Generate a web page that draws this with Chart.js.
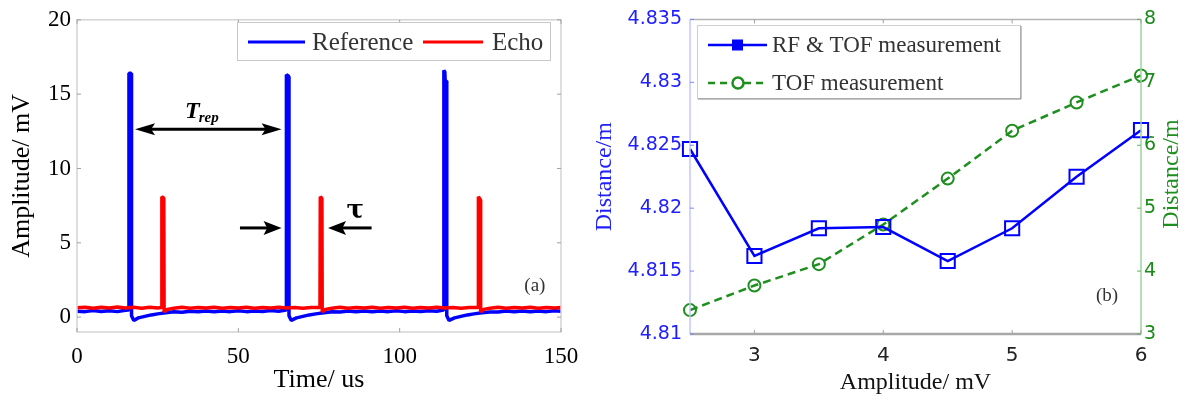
<!DOCTYPE html>
<html>
<head>
<meta charset="utf-8">
<script src="https://cdn.jsdelivr.net/npm/chart.js@4.4.0/dist/chart.umd.min.js"></script>
<style>
html, body { margin: 0; padding: 0; background: #fff; }
#wrap { position: relative; width: 1187px; height: 396px; overflow: hidden; }
#left { position: absolute; left: 0; top: 0; }
#right { position: absolute; left: 590px; top: 0; }
</style>
</head>
<body>
<div id="wrap">
  <canvas id="left" width="590" height="396"></canvas>
  <canvas id="right" width="597" height="396"></canvas>
</div>
<script>
// (a) pulse traces
const refTime = [0, 2.5, 5, 7.5, 10, 12.5, 15, 16.0, 16.1, 16.8, 16.9, 17.6, 19, 21, 23, 25, 27.5, 30, 32.5, 35, 37.5, 40, 42.5, 45, 47.5, 50, 52.5, 55, 57.5, 60, 62.5,
  64.8, 64.9, 65.6, 65.7, 66.4, 68, 70, 72, 74, 76.5, 79, 81.5, 84, 86.5, 89, 91.5, 94, 96.5, 99, 101.5, 104, 106.5, 109, 111.5,
  113.6, 113.7, 114.0, 114.1, 114.5, 114.6, 115.3, 117, 119, 121, 123, 125.5, 128, 130.5, 133, 135.5, 138, 140.5, 143, 145.5, 148, 150];
const refAmp = [0.4, 0.37, 0.44, 0.38, 0.43, 0.37, 0.46, 0.48, 16.4, 16.4, 0.1, -0.22, -0.05, 0.05, 0.15, 0.22, 0.3, 0.36, 0.33, 0.4, 0.36, 0.42, 0.36, 0.41, 0.37, 0.43, 0.37, 0.42, 0.38, 0.44, 0.4,
  0.48, 16.3, 16.2, 0.1, -0.22, -0.05, 0.05, 0.15, 0.22, 0.3, 0.36, 0.34, 0.41, 0.36, 0.42, 0.36, 0.42, 0.37, 0.43, 0.37, 0.42, 0.38, 0.43, 0.4,
  0.48, 16.6, 16.5, 15.9, 15.9, 0.1, -0.22, -0.05, 0.05, 0.15, 0.22, 0.3, 0.35, 0.34, 0.41, 0.36, 0.42, 0.36, 0.42, 0.37, 0.43, 0.4];
const echoTime = [0, 2.5, 5, 7.5, 10, 12.5, 15, 17.5, 20, 22.5, 25, 26.2, 26.3, 26.9, 27.0, 28, 30, 32.5, 35, 37.5, 40, 42.5, 45, 47.5, 50, 52.5, 55, 57.5, 60, 62.5, 65, 67.5, 70, 72.5,
  75.3, 75.4, 75.9, 76.0, 77, 79, 81.5, 84, 86.5, 89, 91.5, 94, 96.5, 99, 101.5, 104, 106.5, 109, 111.5, 114, 116.5, 119, 121.5,
  124.3, 124.4, 125.0, 125.1, 126, 128, 130.5, 133, 135.5, 138, 140.5, 143, 145.5, 148, 150];
const echoAmp = [0.63, 0.67, 0.6, 0.66, 0.61, 0.68, 0.62, 0.66, 0.6, 0.67, 0.62, 0.65, 8.1, 8.0, 0.35, 0.52, 0.6, 0.66, 0.6, 0.65, 0.61, 0.67, 0.6, 0.65, 0.61, 0.66, 0.6, 0.65, 0.62, 0.67, 0.61, 0.65, 0.6, 0.65,
  0.65, 8.1, 8.0, 0.35, 0.52, 0.6, 0.66, 0.6, 0.65, 0.61, 0.67, 0.6, 0.65, 0.61, 0.66, 0.6, 0.65, 0.62, 0.67, 0.61, 0.65, 0.6, 0.65,
  0.65, 8.1, 7.9, 0.35, 0.52, 0.6, 0.66, 0.6, 0.65, 0.61, 0.67, 0.6, 0.65, 0.61, 0.64];
const timeTicks = [0, 50, 100, 150];
const ampTicks = [0, 5, 10, 15, 20];

// (b) distance vs amplitude
const amplitudes = [2.5, 3, 3.5, 4, 4.5, 5, 5.5, 6];
const rfTofDist = [4.8247, 4.8162, 4.8184, 4.8185, 4.8158, 4.8184, 4.8225, 4.8262];
const tofDist = [3.38, 3.77, 4.11, 4.74, 5.47, 6.23, 6.68, 7.11];
const amplitudeTicks = [3, 4, 5, 6];
const distTicks = [4.81, 4.815, 4.82, 4.825, 4.83, 4.835];
const tofTicks = [3, 4, 5, 6, 7, 8];

const serif = 'Liberation Serif';
const sans = 'DejaVu Sans';

function seg(ctx, x0, y0, x1, y1) {
  ctx.beginPath(); ctx.moveTo(x0, y0); ctx.lineTo(x1, y1); ctx.stroke();
}

function arrowHead(ctx, tipX, y, dir, len, half) {
  ctx.beginPath();
  ctx.moveTo(tipX, y);
  ctx.lineTo(tipX - dir * len, y - half);
  ctx.lineTo(tipX - dir * len * 0.8, y);
  ctx.lineTo(tipX - dir * len, y + half);
  ctx.closePath();
  ctx.fill();
}

const panelA = {
  id: 'panelA',
  afterDatasetsDraw(chart) {
    const { ctx, chartArea: a, scales: { x, y } } = chart;
    ctx.save();
    ctx.strokeStyle = '#d4d4d4';
    ctx.lineWidth = 1.5;
    ctx.strokeRect(a.left, a.top, a.right - a.left, a.bottom - a.top);

    // inward ticks
    ctx.strokeStyle = '#a0a0a0';
    ctx.lineWidth = 1;
    timeTicks.forEach(v => {
      const px = x.getPixelForValue(v);
      seg(ctx, px, a.bottom, px, a.bottom - 4);
      seg(ctx, px, a.top, px, a.top + 4);
    });
    ampTicks.forEach(v => {
      const py = y.getPixelForValue(v);
      seg(ctx, a.left, py, a.left + 4, py);
      seg(ctx, a.right, py, a.right - 4, py);
    });

    // T_rep double arrow
    ctx.strokeStyle = '#000';
    ctx.fillStyle = '#000';
    ctx.lineWidth = 3;
    const ty = y.getPixelForValue(12.64);
    const tx0 = x.getPixelForValue(18.0), tx1 = x.getPixelForValue(63.4);
    seg(ctx, tx0 + 12, ty, tx1 - 12, ty);
    arrowHead(ctx, tx0, ty, -1, 20, 6);
    arrowHead(ctx, tx1, ty, 1, 20, 6);
    ctx.textBaseline = 'alphabetic';
    ctx.textAlign = 'left';
    ctx.font = 'italic bold 24px ' + serif;
    const lx = x.getPixelForValue(33.5), ly = y.getPixelForValue(13.4);
    ctx.fillText('T', lx, ly);
    const tw = ctx.measureText('T').width;
    ctx.font = 'italic bold 15px ' + serif;
    ctx.fillText('rep', lx + tw - 1, ly + 4);

    // tau arrows
    const ay = y.getPixelForValue(6.0);
    const a0 = x.getPixelForValue(50.5), a1 = x.getPixelForValue(63.4);
    seg(ctx, a0, ay, a1 - 12, ay);
    arrowHead(ctx, a1, ay, 1, 18, 7);
    const b0 = x.getPixelForValue(91.3), b1 = x.getPixelForValue(77.8);
    seg(ctx, b0, ay, b1 + 12, ay);
    arrowHead(ctx, b1, ay, -1, 18, 7);
    ctx.font = 'bold 26px DejaVu Serif';
    ctx.textAlign = 'center';
    ctx.textBaseline = 'middle';
    ctx.fillText('\u03c4', x.getPixelForValue(86.2), y.getPixelForValue(7.1));

    ctx.font = '19px ' + serif;
    ctx.fillStyle = '#333';
    ctx.fillText('(a)', x.getPixelForValue(141.9), y.getPixelForValue(2.06));

    // legend
    ctx.fillStyle = '#fff';
    ctx.fillRect(237, 22, 313, 38);
    ctx.strokeStyle = '#c8c8c8';
    ctx.lineWidth = 1;
    ctx.strokeRect(237.5, 22.5, 313, 38);
    ctx.lineWidth = 3;
    ctx.strokeStyle = chart.data.datasets[0].borderColor;
    seg(ctx, 248, 42, 305, 42);
    ctx.strokeStyle = chart.data.datasets[1].borderColor;
    seg(ctx, 423, 42, 483, 42);
    ctx.fillStyle = '#333';
    ctx.font = '25px ' + serif;
    ctx.textAlign = 'left';
    ctx.fillText(chart.data.datasets[0].label, 312, 43);
    ctx.fillText(chart.data.datasets[1].label, 492, 43);
    ctx.restore();
  }
};

new Chart(document.getElementById('left'), {
  type: 'line',
  data: {
    datasets: [
      { label: 'Reference', data: refTime.map((t, i) => ({ x: t, y: refAmp[i] })), borderColor: '#0000ff', borderWidth: 3.5, borderJoinStyle: 'bevel', pointRadius: 0, tension: 0, order: 1 },
      { label: 'Echo', data: echoTime.map((t, i) => ({ x: t, y: echoAmp[i] })), borderColor: '#ff0000', borderWidth: 3.5, borderJoinStyle: 'bevel', pointRadius: 0, tension: 0, order: 0 }
    ]
  },
  options: {
    responsive: false,
    animation: false,
    devicePixelRatio: 1,
    layout: { padding: { top: 16, right: 29, left: 0, bottom: 0 } },
    plugins: { legend: { display: false }, tooltip: { enabled: false } },
    scales: {
      x: {
        type: 'linear', min: 0, max: 150,
        afterBuildTicks: s => { s.ticks = timeTicks.map(v => ({ value: v })); },
        afterFit: s => { s.height = 64; },
        grid: { display: false, drawTicks: false },
        border: { display: false },
        ticks: { padding: 11, color: '#000', maxRotation: 0, font: { family: serif, size: 23 } },
        title: { display: true, text: 'Time/ us', color: '#000', font: { family: serif, size: 26, lineHeight: 1 }, padding: { top: 0, bottom: 3 } }
      },
      y: {
        type: 'linear', min: -1, max: 20,
        afterBuildTicks: s => { s.ticks = ampTicks.map(v => ({ value: v })); },
        afterFit: s => { s.width = 77; },
        grid: { display: false, drawTicks: false },
        border: { display: false },
        ticks: { padding: 6, color: '#000', font: { family: serif, size: 23 } },
        title: { display: true, text: 'Amplitude/ mV', color: '#000', font: { family: serif, size: 26, lineHeight: 1 }, padding: { top: 9, bottom: 0 } }
      }
    }
  },
  plugins: [panelA]
});

const panelB = {
  id: 'panelB',
  afterDatasetsDraw(chart) {
    const { ctx, chartArea: a, scales: { x, y, y1 } } = chart;
    ctx.save();
    ctx.lineWidth = 1.5;
    ctx.strokeStyle = '#b4b4b4';
    seg(ctx, a.left, a.top, a.right, a.top);
    ctx.strokeStyle = '#c4c4ff';
    seg(ctx, a.left, a.top, a.left, a.bottom);
    ctx.strokeStyle = '#9fd49f';
    seg(ctx, a.right, a.top, a.right, a.bottom);
    ctx.lineWidth = 2.5;
    ctx.strokeStyle = '#a8a8a8';
    seg(ctx, a.left, a.bottom, a.right, a.bottom);

    ctx.lineWidth = 1;
    ctx.strokeStyle = '#a0a0a0';
    amplitudeTicks.forEach(v => {
      const px = x.getPixelForValue(v);
      seg(ctx, px, a.bottom, px, a.bottom - 4);
      seg(ctx, px, a.top, px, a.top + 4);
    });
    ctx.strokeStyle = '#8080ff';
    distTicks.forEach(v => {
      const py = y.getPixelForValue(v);
      seg(ctx, a.left, py, a.left + 4, py);
    });
    ctx.strokeStyle = '#60b060';
    tofTicks.forEach(v => {
      const py = y1.getPixelForValue(v);
      seg(ctx, a.right, py, a.right - 4, py);
    });

    // legend
    const ds = chart.data.datasets;
    ctx.fillStyle = '#fff';
    ctx.fillRect(107, 25, 323, 73);
    ctx.lineWidth = 1;
    ctx.strokeStyle = '#d0d0d0';
    ctx.strokeRect(107.5, 25.5, 323, 73);
    ctx.strokeStyle = '#8a8a8a';
    seg(ctx, 431, 26, 431, 99);
    seg(ctx, 108, 99, 431, 99);

    ctx.strokeStyle = ds[0].borderColor;
    ctx.lineWidth = 2.5;
    seg(ctx, 118, 45, 177, 45);
    ctx.fillStyle = ds[0].borderColor;
    ctx.fillRect(142, 39.5, 11, 11);
    ctx.strokeStyle = ds[1].borderColor;
    ctx.setLineDash([7, 5]);
    seg(ctx, 118, 83, 177, 83);
    ctx.setLineDash([]);
    ctx.fillStyle = '#fff';
    ctx.beginPath(); ctx.arc(148, 83, 5.5, 0, Math.PI * 2); ctx.fill(); ctx.stroke();
    ctx.fillStyle = '#333';
    ctx.font = '23px ' + serif;
    ctx.textAlign = 'left';
    ctx.textBaseline = 'middle';
    ctx.fillText(ds[0].label, 182, 46);
    ctx.fillText(ds[1].label, 182, 84);

    ctx.font = '19px ' + serif;
    ctx.textAlign = 'center';
    ctx.fillText('(b)', 517, 296);

    // right axis title, reading bottom to top like the left one
    ctx.translate(582, 174);
    ctx.rotate(-Math.PI / 2);
    ctx.fillStyle = ds[1].borderColor;
    ctx.font = '24px ' + serif;
    ctx.fillText('Distance/m', 0, 0);
    ctx.restore();
  }
};

new Chart(document.getElementById('right'), {
  type: 'line',
  data: {
    datasets: [
      {
        label: 'RF & TOF measurement', yAxisID: 'y',
        data: amplitudes.map((v, i) => ({ x: v, y: rfTofDist[i] })),
        borderColor: '#0000ff', borderWidth: 2.5, tension: 0,
        pointStyle: 'rect', pointRadius: 10, pointBorderWidth: 2,
        pointBorderColor: '#0000ff', pointBackgroundColor: 'rgba(0,0,0,0)'
      },
      {
        label: 'TOF measurement', yAxisID: 'y1',
        data: amplitudes.map((v, i) => ({ x: v, y: tofDist[i] })),
        borderColor: '#1e8f1e', borderWidth: 2.5, borderDash: [8, 5], tension: 0,
        pointStyle: 'circle', pointRadius: 6, pointBorderWidth: 2,
        pointBorderColor: '#1e8f1e', pointBackgroundColor: 'rgba(0,0,0,0)'
      }
    ]
  },
  options: {
    responsive: false,
    animation: false,
    devicePixelRatio: 1,
    clip: false,
    layout: { padding: { top: 17, right: 0, left: 0, bottom: 0 } },
    plugins: { legend: { display: false }, tooltip: { enabled: false } },
    scales: {
      x: {
        type: 'linear', min: 2.5, max: 6,
        afterBuildTicks: s => { s.ticks = amplitudeTicks.map(v => ({ value: v })); },
        afterFit: s => { s.height = 62; },
        grid: { display: false, drawTicks: false },
        border: { display: false },
        ticks: { padding: 10, color: '#222', maxRotation: 0, font: { family: sans, size: 20 } },
        title: { display: true, text: 'Amplitude/ mV', color: '#111', font: { family: serif, size: 24, lineHeight: 1 }, padding: { top: 0, bottom: 1 } }
      },
      y: {
        type: 'linear', position: 'left', min: 4.81, max: 4.835,
        afterBuildTicks: s => { s.ticks = distTicks.map(v => ({ value: v })); },
        afterFit: s => { s.width = 100; },
        grid: { display: false, drawTicks: false },
        border: { display: false },
        ticks: { padding: 8, color: '#2020ff', font: { family: sans, size: 19 }, callback: v => String(+v.toFixed(3)) },
        title: { display: true, text: 'Distance/m', color: '#2020ff', font: { family: serif, size: 24, lineHeight: 1 }, padding: { top: 3, bottom: 0 } }
      },
      y1: {
        type: 'linear', position: 'right', min: 3, max: 8,
        afterBuildTicks: s => { s.ticks = tofTicks.map(v => ({ value: v })); },
        afterFit: s => { s.width = 46; },
        grid: { display: false, drawTicks: false },
        border: { display: false },
        ticks: { padding: 3, color: '#1a8a1a', font: { family: sans, size: 19 } }
      }
    }
  },
  plugins: [panelB]
});
</script>
</body>
</html>
